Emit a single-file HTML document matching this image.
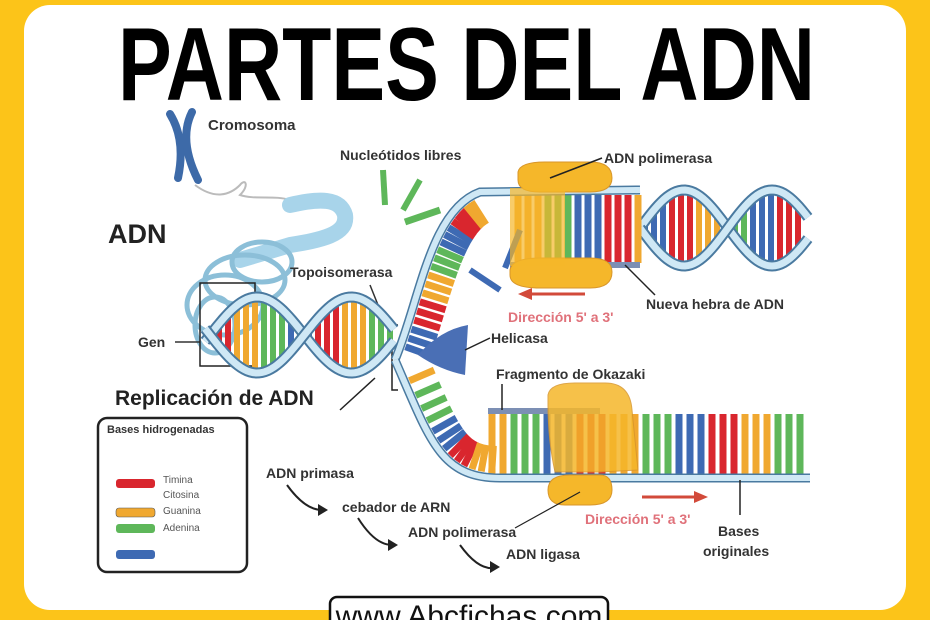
<!DOCTYPE html>
<html><head><meta charset="utf-8"><style>
html,body{margin:0;padding:0;width:930px;height:620px;overflow:hidden;background:#fcc419}
svg{display:block}
text{font-family:"Liberation Sans",sans-serif}
</style></head><body>
<svg id="s" width="930" height="620" viewBox="0 0 930 620" xmlns="http://www.w3.org/2000/svg">
<rect x="0" y="0" width="930" height="620" fill="#fcc419"/>
<rect x="24" y="5" width="882" height="605" rx="26" fill="#fff"/>
<text x="118" y="100" font-size="104" font-weight="bold" textLength="697" lengthAdjust="spacingAndGlyphs">PARTES DEL ADN</text>

<!-- chromosome -->
<g stroke="#3d6aa8" stroke-width="8" stroke-linecap="round" fill="none">
<path d="M170 114 Q186 140 178 178"/><path d="M192 112 Q178 140 198 180"/>
</g>
<text x="208" y="130" font-size="15" font-weight="bold" fill="#333">Cromosoma</text>
<path d="M195 185 C215 200 230 195 240 185 C245 178 250 185 240 195 C255 200 275 195 290 200" fill="none" stroke="#bbb" stroke-width="2"/>
<path d="M290 205 C320 198 340 198 345 215 C348 235 320 240 290 245 L240 260" fill="none" stroke="#a8d4ea" stroke-width="16" stroke-linecap="round"/>
<g fill="none" stroke="#8cbfd8" stroke-width="5">
<ellipse cx="262" cy="262" rx="30" ry="20"/><ellipse cx="245" cy="280" rx="40" ry="25"/><ellipse cx="225" cy="305" rx="38" ry="30"/><ellipse cx="215" cy="325" rx="20" ry="28"/>
</g>
<text x="108" y="243" font-size="27" font-weight="bold" fill="#222">ADN</text>
<text x="138" y="347" font-size="14" font-weight="bold" fill="#333">Gen</text>
<line x1="175" y1="342" x2="200" y2="342" stroke="#333" stroke-width="1.5"/>
<rect x="200" y="283" width="55" height="83" fill="none" stroke="#222" stroke-width="1.5"/>
<text x="290" y="277" font-size="14" font-weight="bold" fill="#333">Topoisomerasa</text>
<line x1="370" y1="285" x2="392" y2="340" stroke="#333" stroke-width="1.5"/>
<path d="M398 325 L392 325 L392 390 L398 390" fill="none" stroke="#222" stroke-width="1.5"/>
<text x="115" y="405" font-size="21" font-weight="bold" fill="#222">Replicación de ADN</text>
<line x1="340" y1="410" x2="375" y2="378" stroke="#222" stroke-width="1.5"/>

<g id="dna"></g>

<!-- main strands -->
<path d="M395 360 C420 300 430 210 480 192 L640 190" fill="none" stroke="#4a7aa0" stroke-width="9"/>
<path d="M395 360 C420 300 430 210 480 192 L640 190" fill="none" stroke="#cfe8f5" stroke-width="6"/>
<path d="M395 360 C430 440 440 478 500 478 L810 478" fill="none" stroke="#4a7aa0" stroke-width="9"/>
<path d="M395 360 C430 440 440 478 500 478 L810 478" fill="none" stroke="#cfe8f5" stroke-width="6"/>
<path d="M488 411 L600 411" stroke="#7c8fb4" stroke-width="6"/>
<path d="M510 265 L640 265" stroke="#7c8fb4" stroke-width="6"/>

<!-- polymerases -->
<path d="M518 172 Q520 162 545 162 L590 162 Q612 162 612 178 Q612 192 590 192 L540 192 Q518 192 518 180Z" fill="#f5b72a" stroke="#d8962a"/>
<path d="M510 270 Q512 258 540 258 L590 258 Q612 258 612 272 Q612 288 590 288 L540 288 Q510 288 510 275Z" fill="#f5b72a" stroke="#d8962a"/>
<rect x="510" y="188" width="55" height="78" fill="#f5b72a" opacity=".7"/>
<path d="M548 395 Q550 383 575 383 L605 383 Q630 383 632 410 L638 470 L600 472 L555 472 Q548 440 548 405Z" fill="#f5b72a" stroke="#d8962a" opacity=".85"/>
<path d="M548 490 Q548 475 570 475 L600 475 Q612 475 612 490 Q612 505 590 505 L565 505 Q548 505 548 490Z" fill="#f5b72a" stroke="#d8962a"/>

<!-- helicase -->
<path d="M418 355 Q440 330 468 325 L465 375 Q440 370 418 355Z" fill="#4a6fb5"/>

<!-- labels -->
<text x="340" y="160" font-size="14" font-weight="bold" fill="#333">Nucleótidos libres</text>
<text x="604" y="163" font-size="14" font-weight="bold" fill="#333">ADN polimerasa</text>
<line x1="550" y1="178" x2="602" y2="158" stroke="#222" stroke-width="1.5"/>
<text x="646" y="309" font-size="14" font-weight="bold" fill="#333">Nueva hebra de ADN</text>
<line x1="625" y1="265" x2="655" y2="295" stroke="#222" stroke-width="1.5"/>
<line x1="530" y1="294" x2="585" y2="294" stroke="#d24a3a" stroke-width="3"/>
<path d="M518 294 L532 288 L532 300Z" fill="#d24a3a"/>
<text x="508" y="322" font-size="14" font-weight="bold" fill="#e0717a">Dirección 5' a 3'</text>
<text x="491" y="343" font-size="14" font-weight="bold" fill="#333">Helicasa</text>
<line x1="465" y1="350" x2="490" y2="338" stroke="#222" stroke-width="1.5"/>
<text x="496" y="379" font-size="14" font-weight="bold" fill="#333">Fragmento de Okazaki</text>
<line x1="502" y1="384" x2="502" y2="410" stroke="#222" stroke-width="1.5"/>
<line x1="642" y1="497" x2="695" y2="497" stroke="#d24a3a" stroke-width="3"/>
<path d="M708 497 L694 491 L694 503Z" fill="#d24a3a"/>
<text x="585" y="524" font-size="14" font-weight="bold" fill="#e0717a">Dirección 5' a 3'</text>
<line x1="740" y1="480" x2="740" y2="515" stroke="#222" stroke-width="1.5"/>
<text x="718" y="536" font-size="14" font-weight="bold" fill="#333">Bases</text>
<text x="703" y="556" font-size="14" font-weight="bold" fill="#333">originales</text>
<text x="266" y="478" font-size="14" font-weight="bold" fill="#333">ADN primasa</text>
<text x="342" y="512" font-size="14" font-weight="bold" fill="#333">cebador de ARN</text>
<text x="408" y="537" font-size="14" font-weight="bold" fill="#333">ADN polimerasa</text>
<line x1="515" y1="528" x2="580" y2="492" stroke="#222" stroke-width="1.2"/>
<text x="506" y="559" font-size="14" font-weight="bold" fill="#333">ADN ligasa</text>
<g fill="none" stroke="#222" stroke-width="2">
<path d="M287 485 Q305 510 322 510"/><path d="M358 518 Q375 545 392 545"/><path d="M460 545 Q478 570 494 568"/>
</g>
<g fill="#222"><path d="M328 510 L318 504 L318 516Z"/><path d="M398 545 L388 539 L388 551Z"/><path d="M500 567 L490 561 L490 573Z"/></g>

<!-- legend -->
<rect x="98" y="418" width="149" height="154" rx="9" fill="#fff" stroke="#222" stroke-width="2.5"/>
<text x="107" y="433" font-size="11" font-weight="bold" fill="#333">Bases hidrogenadas</text>
<rect x="116" y="479" width="39" height="9" rx="3" fill="#d9262e"/>
<rect x="116" y="508" width="39" height="9" rx="3" fill="#f0a830" stroke="#555" stroke-width=".6"/>
<rect x="116" y="524" width="39" height="9" rx="3" fill="#5eb75a"/>
<rect x="116" y="550" width="39" height="9" rx="3" fill="#3e6ab3"/>
<g font-size="10" fill="#555"><text x="163" y="483">Timina</text><text x="163" y="498">Citosina</text><text x="163" y="514">Guanina</text><text x="163" y="531">Adenina</text></g>

<!-- footer -->
<rect x="330" y="597" width="278" height="30" rx="7" fill="#fff" stroke="#111" stroke-width="2.5"/>
<text x="469" y="626" font-size="30" text-anchor="middle" fill="#111">www.Abcfichas.com</text>
</svg>
<script>
var C=["#d9262e","#f0a830","#5eb75a","#3e6ab3"];
var g=document.getElementById("dna"),ns="http://www.w3.org/2000/svg",k=0;
function bar(x1,y1,x2,y2,w){var l=document.createElementNS(ns,"line");l.setAttribute("x1",x1);l.setAttribute("y1",y1);l.setAttribute("x2",x2);l.setAttribute("y2",y2);l.setAttribute("stroke",C[(k*7+k%3)%4]);l.setAttribute("stroke-width",w||6);k++;g.appendChild(l);}
function pth(d,c,w){var p=document.createElementNS(ns,"path");p.setAttribute("d",d);p.setAttribute("fill","none");p.setAttribute("stroke",c);p.setAttribute("stroke-width",w);g.appendChild(p);}
function bz(P,t){var u=1-t;return [u*u*u*P[0]+3*u*u*t*P[2]+3*u*t*t*P[4]+t*t*t*P[6], u*u*u*P[1]+3*u*u*t*P[3]+3*u*t*t*P[5]+t*t*t*P[7]];}
// left helix
for(var x=210;x<392;x+=9){var a=38*Math.sin((x-210)/30);bar(x,335-a,x,335+a,6);}
var d1="",d2="";for(var x=205;x<=395;x+=3){var a=38*Math.sin((x-210)/30);d1+=(x==205?"M":"L")+x+" "+(335-a);d2+=(x==205?"M":"L")+x+" "+(335+a);}
pth(d1,"#4a7aa0",11);pth(d1,"#cfe8f5",7);pth(d2,"#4a7aa0",11);pth(d2,"#cfe8f5",7);
// right helix
for(var x=645;x<805;x+=9){var a=38*Math.sin((x-640)/28);bar(x,228-a,x,228+a,6);}
d1="";d2="";for(var x=640;x<=808;x+=3){var a=38*Math.sin((x-640)/28);d1+=(x==640?"M":"L")+x+" "+(228-a);d2+=(x==640?"M":"L")+x+" "+(228+a);}
pth(d1,"#4a7aa0",11);pth(d1,"#cfe8f5",7);pth(d2,"#4a7aa0",11);pth(d2,"#cfe8f5",7);
// upper new strand bars
for(var x=518;x<640;x+=10)bar(x,195,x,263,7);
// lower bars
for(var x=492;x<808;x+=11)bar(x,414,x,474,7);
// fork arm bars along curves
var U=[395,360,420,300,430,210,480,192],L=[395,360,430,440,440,478,500,478];
function arm(P,sgn,n,t0,t1){for(var i=0;i<n;i++){var t=t0+(t1-t0)*i/(n-1);var p=bz(P,t),q=bz(P,t+0.01);var dx=q[0]-p[0],dy=q[1]-p[1],m=Math.hypot(dx,dy);var nx=-dy/m*sgn,ny=dx/m*sgn;bar(p[0]+nx*5,p[1]+ny*5,p[0]+nx*32,p[1]+ny*32,7);}}
arm(U,1,20,0.08,0.92);arm(L,-1,13,0.1,0.95);
// free nucleotides
bar(383,170,385,205,6);bar(420,180,403,210,6);bar(440,210,405,222,7);bar(470,270,500,290,6);bar(520,230,505,268,6);
</script>
</body></html>
